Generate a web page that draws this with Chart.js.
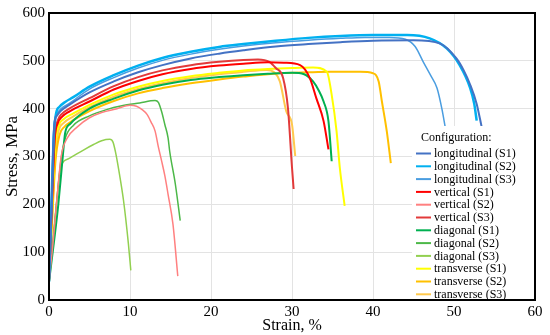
<!DOCTYPE html>
<html>
<head>
<meta charset="utf-8">
<script src="https://cdn.jsdelivr.net/npm/chart.js@4.4.1/dist/chart.umd.min.js"></script>
<style>
  html, body { margin: 0; padding: 0; background: #fff; }
  #wrap { width: 550px; height: 335px; }
</style>
</head>
<body>
<div id="wrap"><canvas id="stressChart" width="550" height="335"></canvas></div>
<script>
// strain (%) / stress (MPa)
const lonS1Strain = [0, 0.3, 0.65, 1, 1.5, 2.5, 5, 8, 11, 14, 17.5, 21, 24, 28, 32, 36, 40, 45, 48.3, 50.3, 51.2, 52, 52.8, 53.4];
const lonS1Stress = [38, 190, 365, 386, 396, 408, 434, 457, 476, 491, 505, 515, 522, 530, 535, 539, 542, 543, 536, 505, 480, 450, 410, 363];
const lonS2Strain = [0, 0.3, 0.6, 0.9, 1.3, 2, 3, 5, 8, 11, 14, 17.5, 21, 24, 28, 32, 36, 40, 44.2, 47, 49.1, 50.7, 52, 52.5, 52.8];
const lonS2Stress = [38, 200, 345, 392, 404, 414, 424, 446, 470, 490, 506, 519, 529, 535, 542, 548, 552, 554, 554, 547, 526, 491, 443, 410, 375];
const lonS3Strain = [0, 0.3, 0.62, 1, 1.5, 2.5, 5, 8, 11, 14, 17.5, 21, 24, 28, 32, 36, 39, 42, 44, 45.2, 46.2, 47.1, 47.9, 48.5, 48.9];
const lonS3Stress = [38, 195, 365, 390, 400, 411, 441, 465, 485, 501, 514, 524, 531, 538, 543, 547, 549, 549, 545, 530, 498, 470, 443, 400, 363];

const verS1Strain = [0, 0.3, 0.7, 1.1, 1.6, 2.5, 5, 8, 11, 14, 17.5, 21, 24, 27, 29, 31, 32.2, 33, 33.9, 34.5];
const verS1Stress = [38, 170, 335, 370, 383, 394, 415, 440, 458, 472, 483, 490, 494, 497, 496, 491, 464, 422, 374, 315];
const verS2Strain = [0, 0.5, 1.0, 1.5, 2.2, 3.5, 5, 6.5, 8.4, 10, 10.8, 11.5, 12.1, 12.6, 13.1, 13.5, 13.9, 14.3, 14.7, 15.3, 15.9];
const verS2Stress = [38, 120, 215, 300, 337, 362, 381, 392, 400, 407, 405, 398, 388, 372, 353, 320, 291, 260, 221, 159, 50];
const verS3Strain = [0, 0.3, 0.7, 1.1, 1.6, 2.5, 5, 8, 11, 14, 17.5, 21, 24, 25.8, 27.2, 28, 28.9, 29.5, 30, 30.2];
const verS3Stress = [38, 175, 340, 376, 389, 400, 422, 447, 466, 480, 491, 498, 502, 503, 498, 485, 464, 401, 277, 232];

const diaS1Strain = [0, 0.6, 1.15, 1.7, 2.0, 2.6, 5, 8, 11, 14, 17.5, 21, 24, 27, 30, 31.5, 32.6, 33.3, 33.9, 34.5, 34.9];
const diaS1Stress = [38, 120, 200, 300, 350, 368, 400, 421, 438, 450, 460, 466, 470, 473, 475, 472, 457, 438, 415, 374, 290];
const diaS2Strain = [0, 0.5, 1.0, 1.5, 2, 3, 5, 7.1, 9, 11.2, 13.1, 13.5, 13.9, 14.3, 14.7, 14.9, 15.6, 16.2];
const diaS2Stress = [38, 120, 215, 295, 338, 365, 385, 398, 406, 412, 417, 413, 394, 367, 339, 311, 242, 166];
const diaS3Strain = [0, 0.5, 1.0, 1.44, 2.5, 4.2, 5.5, 6.5, 7.5, 7.9, 8.2, 8.6, 9.2, 9.8, 10.1];
const diaS3Stress = [38, 130, 215, 277, 296, 313, 325, 333, 336, 330, 310, 273, 208, 118, 62];

const traS1Strain = [0, 0.4, 0.8, 1.2, 1.8, 3, 5, 8, 11, 14, 17.5, 21, 24, 27, 30, 32.6, 34.3, 34.9, 35.5, 35.9, 36.5];
const traS1Stress = [38, 200, 330, 365, 378, 390, 408, 430, 446, 458, 468, 475, 480, 483, 485, 486, 477, 429, 353, 277, 197];
const traS2Strain = [0, 0.4, 0.8, 1.3, 1.9, 3, 5, 8, 11, 14, 17.5, 21, 24, 28.5, 32, 34.7, 38.4, 40, 40.7, 41.1, 41.7, 42.2];
const traS2Stress = [38, 170, 290, 345, 362, 376, 395, 416, 432, 443, 453, 461, 467, 474, 476, 477, 477, 474, 457, 415, 353, 286];
const traS3Strain = [0, 0.4, 0.8, 1.2, 1.8, 3, 5, 8, 11, 14, 17.5, 21, 24, 26.9, 27.8, 28.5, 29.3, 30, 30.4];
const traS3Stress = [38, 185, 310, 355, 370, 384, 403, 425, 441, 453, 464, 472, 477, 481, 476, 457, 394, 367, 301];

const seriesLabels = [
  'longitudinal (S1)', 'longitudinal (S2)', 'longitudinal (S3)',
  'vertical (S1)', 'vertical (S2)', 'vertical (S3)',
  'diagonal (S1)', 'diagonal (S2)', 'diagonal (S3)',
  'transverse (S1)', 'transverse (S2)', 'transverse (S3)'
];
const strainTicks = [0, 10, 20, 30, 40, 50, 60];
const stressTicks = [0, 100, 200, 300, 400, 500, 600];

const colors = [
  '#4472C4', '#00B0F0', '#4A9DE0',
  '#FF0000', '#FF8080', '#E23A3A',
  '#00B050', '#4CB848', '#92D050',
  '#FFFF00', '#FFC000', '#FFC94D'
];
const widths = [2, 2.5, 1.5, 2, 1.5, 2, 2, 1.5, 1.5, 2, 2, 2];

const curves = [
  [lonS1Strain, lonS1Stress], [lonS2Strain, lonS2Stress], [lonS3Strain, lonS3Stress],
  [verS1Strain, verS1Stress], [verS2Strain, verS2Stress], [verS3Strain, verS3Stress],
  [diaS1Strain, diaS1Stress], [diaS2Strain, diaS2Stress], [diaS3Strain, diaS3Stress],
  [traS1Strain, traS1Stress], [traS2Strain, traS2Stress], [traS3Strain, traS3Stress]
];

function pts(xs, ys) {
  return xs.map((x, i) => ({ x: x, y: ys[i] }));
}

const serif = '"Liberation Serif", "Times New Roman", serif';

const frameAndLegend = {
  id: 'frameAndLegend',
  afterDraw(chart) {
    const ctx = chart.ctx;
    const a = chart.chartArea;
    ctx.save();

    // legend box
    ctx.fillStyle = '#fff';
    ctx.fillRect(412, 126, a.right - 413, a.bottom - 127);
    ctx.fillStyle = '#000';
    ctx.font = '12px ' + serif;
    ctx.textBaseline = 'middle';
    ctx.textAlign = 'left';
    ctx.fillText('Configuration:', 421, 137.5);
    chart.data.datasets.forEach((ds, i) => {
      const y = 153.5 + i * 12.8;
      ctx.strokeStyle = ds.borderColor;
      ctx.lineWidth = 2;
      ctx.beginPath();
      ctx.moveTo(416, y);
      ctx.lineTo(431, y);
      ctx.stroke();
      ctx.fillStyle = '#000';
      ctx.fillText(ds.label, 434, y + 0.5);
    });

    // plot frame
    ctx.strokeStyle = '#000';
    ctx.lineWidth = 2;
    ctx.strokeRect(a.left, a.top, a.right - a.left, a.bottom - a.top);
    ctx.restore();
  }
};

const ctxStress = document.getElementById('stressChart').getContext('2d');
const stressChart = new Chart(ctxStress, {
  type: 'scatter',
  data: {
    datasets: curves.map((c, i) => ({
      label: seriesLabels[i],
      data: pts(c[0], c[1]),
      showLine: true,
      borderColor: colors[i],
      backgroundColor: colors[i],
      borderWidth: widths[i],
      pointRadius: 0,
      cubicInterpolationMode: 'monotone'
    }))
  },
  options: {
    responsive: false,
    animation: false,
    events: [],
    layout: { padding: { left: 0, right: 15, top: 11, bottom: 0 } },
    plugins: {
      legend: { display: false },
      tooltip: { enabled: false }
    },
    scales: {
      x: {
        type: 'linear',
        min: 0,
        max: 60,
        afterFit: (s) => { s.height = 35; },
        afterBuildTicks: (s) => { s.ticks = strainTicks.map(v => ({ value: v })); },
        grid: { color: '#e3e3e3', lineWidth: 1, drawTicks: false },
        border: { display: false },
        ticks: { color: '#000', padding: 3, font: { family: serif, size: 15 } },
        title: {
          display: true,
          text: 'Strain, %',
          color: '#000',
          padding: { top: 0, bottom: 0 },
          font: { family: serif, size: 16 }
        }
      },
      y: {
        type: 'linear',
        min: 0,
        max: 600,
        afterFit: (s) => { s.width = 49; },
        afterBuildTicks: (s) => { s.ticks = stressTicks.map(v => ({ value: v })); },
        grid: { color: '#e3e3e3', lineWidth: 1, drawTicks: false },
        border: { display: false },
        ticks: { color: '#000', padding: 4, font: { family: serif, size: 15 } },
        title: {
          display: true,
          text: 'Stress, MPa',
          color: '#000',
          padding: { top: 2, bottom: 0 },
          font: { family: serif, size: 17 }
        }
      }
    }
  },
  plugins: [frameAndLegend]
});
</script>
</body>
</html>
